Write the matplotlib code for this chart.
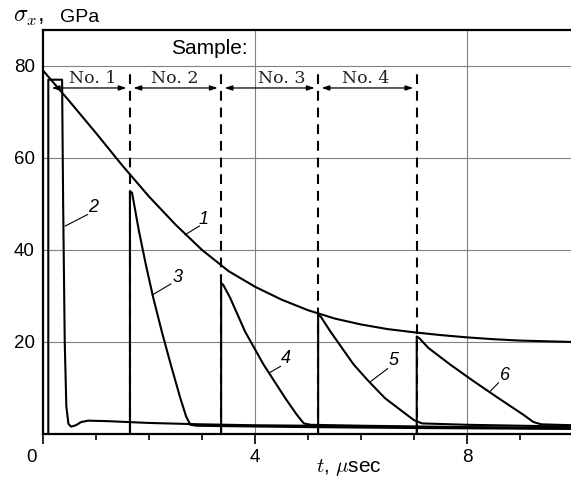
import matplotlib
matplotlib.use("Agg")
import matplotlib.pyplot as plt
from matplotlib.ticker import FixedLocator
import matplotlib.transforms as mtransforms

plt.rcParams['font.family'] = ['Liberation Sans', 'DejaVu Sans']
plt.rcParams['mathtext.fontset'] = 'cm'
plt.rcParams['lines.scale_dashes'] = False

# ---- data ----
# curve 1: envelope
c1_t = [0, 0.5, 1.0, 1.5, 2.0, 2.5, 3.0, 3.5, 4.0, 4.5, 5.0, 5.5, 6.0, 6.5, 7.0, 7.5, 8.0, 8.5, 9.0, 9.5, 10.0]
c1_y = [79, 72.3, 65.4, 58.3, 51.6, 45.5, 40.0, 35.4, 32.0, 29.2, 26.9, 25.1, 23.8, 22.8, 22.1, 21.5, 21.0, 20.6, 20.3, 20.15, 20.0]
# curve 2
c2_t = [0.10, 0.10, 0.36, 0.38, 0.41, 0.44, 0.48, 0.53, 0.62, 0.72, 0.85, 1.2, 1.6, 2.0, 3.0, 4.0, 5.0, 6.0, 7.0, 8.0, 9.0, 10.0]
c2_y = [0, 77, 77, 50, 20, 6.0, 2.2, 1.6, 1.9, 2.6, 2.9, 2.8, 2.6, 2.4, 2.1, 1.9, 1.8, 1.6, 1.5, 1.4, 1.3, 1.2]
# curve 3
c3_t = [1.64, 1.64, 1.68, 1.81, 1.94, 2.08, 2.24, 2.41, 2.59, 2.70, 2.78, 2.90, 3.5, 5.0, 7.0, 10.0]
c3_y = [0, 52.8, 52.4, 44.1, 36.8, 29.6, 22.3, 15.1, 7.8, 3.8, 2.0, 1.8, 1.7, 1.5, 1.3, 1.1]
# curve 4
c4_t = [3.36, 3.36, 3.40, 3.53, 3.81, 4.16, 4.57, 4.78, 4.92, 5.05, 6.0, 8.0, 10.0]
c4_y = [0, 32.8, 32.4, 29.6, 22.3, 15.1, 7.8, 4.3, 2.3, 2.0, 1.8, 1.5, 1.3]
# curve 5
c5_t = [5.19, 5.19, 5.24, 5.42, 5.64, 5.86, 6.14, 6.45, 6.86, 7.00, 7.15, 8.0, 10.0]
c5_y = [0, 25.9, 25.5, 22.3, 18.7, 15.1, 11.5, 7.8, 4.2, 3.0, 2.3, 2.0, 1.6]
# curve 6
c6_t = [7.05, 7.05, 7.10, 7.27, 7.68, 8.12, 8.59, 9.06, 9.25, 9.40, 10.0]
c6_y = [0, 21.2, 20.8, 18.7, 15.1, 11.5, 7.8, 4.2, 2.6, 2.1, 1.9]

curves_t = [c1_t, c2_t, c3_t, c4_t, c5_t, c6_t]
curves_y = [c1_y, c2_y, c3_y, c4_y, c5_y, c6_y]

curve_labels = ['1', '2', '3', '4', '5', '6']
label_text_t = [3.03, 0.95, 2.53, 4.59, 6.62, 8.71]
label_text_y = [46.7, 49.2, 34.1, 16.4, 15.9, 12.7]
leader_start_t = [2.95, 0.84, 2.41, 4.48, 6.50, 8.59]
leader_start_y = [45.2, 47.7, 32.6, 14.7, 14.2, 11.1]
leader_end_t = [2.68, 0.42, 2.06, 4.27, 6.18, 8.43]
leader_end_y = [43.3, 45.2, 30.2, 13.3, 11.4, 9.2]

sample_bounds = [0.10, 1.64, 3.36, 5.19, 7.05]
sample_labels = ['No. 1', 'No. 2', 'No. 3', 'No. 4']
sample_label_t = [0.93, 2.49, 4.51, 6.08]

x_major = [0, 4, 8]
x_major_labels = ['0', '4', '8']
x_minor = [1, 2, 3, 5, 6, 7, 9]
y_major = [20, 40, 60, 80]

# ---- figure ----
W, H = 571, 478
fig = plt.figure(figsize=(W / 100, H / 100), dpi=100)
ax = fig.add_axes([43 / W, 44 / H, (W - 43) / W, (434 - 30) / H])
ax.set_xlim(0, 9.96)
ax.set_ylim(0, 87.8)

# grid
for gx in [4, 8]:
    ax.axvline(gx, color='#808080', lw=0.8, zorder=1)
for gy in y_major:
    ax.axhline(gy, color='#808080', lw=0.8, zorder=1)

# dashed sample boundaries
for b in sample_bounds[1:]:
    ax.plot([b, b], [0, 78.5], color='black', lw=1.5, dashes=(7, 5), zorder=2)

# curves
for t, y in zip(curves_t, curves_y):
    ax.plot(t, y, color='black', lw=1.5, solid_joinstyle='round', zorder=3)

# curve labels with leaders
for lab, tx, ty, sx, sy, ex, ey in zip(curve_labels, label_text_t, label_text_y,
                                        leader_start_t, leader_start_y,
                                        leader_end_t, leader_end_y):
    ax.plot([sx, ex], [sy, ey], color='black', lw=0.8, zorder=3)
    ax.text(tx, ty, lab, fontsize=13, style='italic', ha='center', va='center',
            family='Liberation Sans')

# sample arrows
arrow_y = 75.2
for a, b in zip(sample_bounds[:-1], sample_bounds[1:]):
    ax.annotate('', xy=(a, arrow_y), xytext=(b, arrow_y),
                arrowprops=dict(arrowstyle='<|-|>,head_length=0.45,head_width=0.15',
                                color='black', lw=0.9, shrinkA=2.5, shrinkB=2.5),
                zorder=4)
for lab, lt in zip(sample_labels, sample_label_t):
    ax.text(lt, 76.3, lab, fontsize=12.5, family='DejaVu Serif',
            ha='center', va='baseline', color='#222222')
ax.text(3.86, 82.6, 'Sample:', fontsize=15, ha='right', va='baseline')

# axes styling
for s in ['left', 'bottom', 'top']:
    ax.spines[s].set_linewidth(1.6)
ax.spines['right'].set_visible(False)

ax.xaxis.set_major_locator(FixedLocator(x_major))
ax.set_xticklabels(x_major_labels)
ax.xaxis.set_minor_locator(FixedLocator(x_minor))
ax.tick_params(axis='x', which='major', direction='out', length=7, width=1.2,
               labelsize=13.5, pad=4)
ax.tick_params(axis='x', which='minor', direction='out', length=4.5, width=1.2)
ax.yaxis.set_major_locator(FixedLocator(y_major))
ax.tick_params(axis='y', which='major', length=0, labelsize=13.5, pad=6)

# shift the "0" label to the left
lbl0 = ax.get_xticklabels()[0]
lbl0.set_transform(lbl0.get_transform() + mtransforms.ScaledTranslation(-11 / 100, 0, fig.dpi_scale_trans))

# axis titles
fig.text(13 / W, 1 - 22 / H, r'$\sigma_x$,', fontsize=17, va='baseline', ha='left')
fig.text(60 / W, 1 - 22 / H, 'GPa', fontsize=14, va='baseline', ha='left')
fig.text(316 / W, 1 - 472 / H, r'$t$, $\mu$sec', fontsize=15, va='baseline', ha='left')

fig.savefig('out.png', dpi=100)
